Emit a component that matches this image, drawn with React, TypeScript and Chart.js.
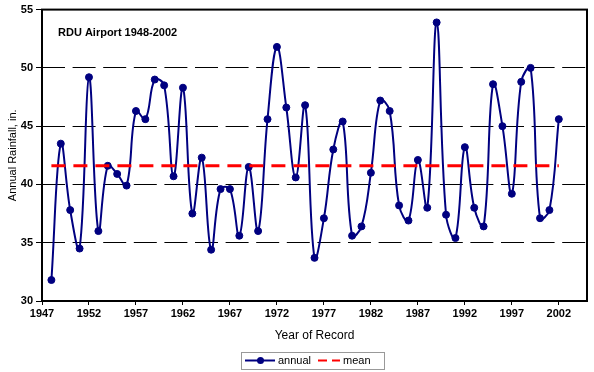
import { useEffect, useRef } from 'react';
import { Chart, registerables } from 'chart.js';

Chart.register(...registerables);

const years = [
  1948, 1949, 1950, 1951, 1952, 1953, 1954, 1955, 1956, 1957,
  1958, 1959, 1960, 1961, 1962, 1963, 1964, 1965, 1966, 1967,
  1968, 1969, 1970, 1971, 1972, 1973, 1974, 1975, 1976, 1977,
  1978, 1979, 1980, 1981, 1982, 1983, 1984, 1985, 1986, 1987,
  1988, 1989, 1990, 1991, 1992, 1993, 1994, 1995, 1996, 1997,
  1998, 1999, 2000, 2001, 2002,
];

const annualRainfall = [
  31.8, 43.5, 37.8, 34.5, 49.2, 36.0, 41.6, 40.9, 39.9, 46.3,
  45.6, 49.0, 48.5, 40.7, 48.3, 37.5, 42.3, 34.4, 39.6, 39.6,
  35.6, 41.5, 36.0, 45.6, 51.8, 46.6, 40.6, 46.8, 33.7, 37.1,
  43.0, 45.4, 35.6, 36.4, 41.0, 47.2, 46.3, 38.2, 36.9, 42.1,
  38.0, 53.9, 37.4, 35.4, 43.2, 38.0, 36.4, 48.6, 45.0, 39.2,
  48.8, 50.0, 37.1, 37.8, 45.6,
];

const meanYears = [1948, 2002];
const meanValues = [41.6, 41.6];

const xTickYears = [1947, 1952, 1957, 1962, 1967, 1972, 1977, 1982, 1987, 1992, 1997, 2002];
const xMin = 1947;
const xMax = 2005;
const yMin = 30;
const yMax = 55;
const yStep = 5;

const chartTitle = 'RDU Airport 1948-2002';
const xTitle = 'Year of Record';
const yTitle = 'Annual Rainfall, in.';
const seriesLabels = ['annual', 'mean'];

const FONT = '"Liberation Sans", Arial, sans-serif';
const NAVY = '#000080';
const RED = '#FF0000';

const decorPlugin = {
  id: 'decor',
  afterDatasetsDraw(chart: any) {
    const { ctx, chartArea: a } = chart;
    ctx.save();
    ctx.strokeStyle = '#000';
    ctx.lineWidth = 2;
    ctx.strokeRect(a.left, a.top, a.right - a.left, a.bottom - a.top);
    ctx.fillStyle = '#000';
    ctx.font = `bold 11px ${FONT}`;
    ctx.textBaseline = 'middle';
    ctx.textAlign = 'left';
    ctx.fillText(chartTitle, a.left + 16, a.top + 23);
    ctx.restore();
  },
  afterDraw(chart: any) {
    const { ctx } = chart;
    const ds = chart.data.datasets;
    const bx = 241, by = 352, bw = 143, bh = 17;
    const cy = by + bh / 2;
    ctx.save();
    ctx.fillStyle = '#fff';
    ctx.fillRect(bx, by, bw, bh);
    ctx.strokeStyle = '#999';
    ctx.lineWidth = 1;
    ctx.strokeRect(bx + 0.5, by + 0.5, bw, bh);
    // annual
    ctx.strokeStyle = NAVY;
    ctx.lineWidth = 2;
    ctx.beginPath();
    ctx.moveTo(bx + 4, cy);
    ctx.lineTo(bx + 34, cy);
    ctx.stroke();
    ctx.fillStyle = NAVY;
    ctx.beginPath();
    ctx.arc(bx + 19.5, cy, 3.5, 0, Math.PI * 2);
    ctx.fill();
    ctx.fillStyle = '#000';
    ctx.font = `11px ${FONT}`;
    ctx.textBaseline = 'middle';
    ctx.textAlign = 'left';
    ctx.fillText(ds[0].label, bx + 37, cy + 0.5);
    // mean
    ctx.strokeStyle = RED;
    ctx.lineWidth = 2;
    ctx.beginPath();
    ctx.moveTo(bx + 77, cy);
    ctx.lineTo(bx + 86, cy);
    ctx.moveTo(bx + 91, cy);
    ctx.lineTo(bx + 99, cy);
    ctx.stroke();
    ctx.fillStyle = '#000';
    ctx.fillText(ds[1].label, bx + 102, cy + 0.5);
    ctx.restore();
  },
};

export default function App() {
  const ref = useRef<HTMLCanvasElement>(null);

  useEffect(() => {
    document.body.style.margin = '0';
    const canvas = ref.current;
    if (!canvas) return;
    const chart = new Chart(canvas, {
      type: 'line',
      data: {
        datasets: [
          {
            label: seriesLabels[0],
            data: years.map((x, i) => ({ x, y: annualRainfall[i] })),
            borderColor: NAVY,
            backgroundColor: NAVY,
            borderWidth: 2,
            pointRadius: 3.5,
            pointBorderWidth: 1,
            pointBackgroundColor: NAVY,
            pointBorderColor: NAVY,
            tension: 0.4,
            order: 1,
          },
          {
            label: seriesLabels[1],
            data: meanYears.map((x, i) => ({ x, y: meanValues[i] })),
            borderColor: RED,
            backgroundColor: RED,
            borderWidth: 3,
            borderDash: [14, 8],
            pointRadius: 0,
            tension: 0,
            order: 0,
          },
        ],
      },
      options: {
        responsive: false,
        animation: false,
        layout: { padding: { left: 0, top: 9, right: 7, bottom: 25 } },
        plugins: {
          legend: { display: false },
          tooltip: { enabled: false },
          title: { display: false },
        },
        scales: {
          x: {
            type: 'linear',
            min: xMin,
            max: xMax,
            afterBuildTicks: (scale: any) => {
              scale.ticks = xTickYears.map((v) => ({ value: v }));
            },
            afterFit: (scale: any) => {
              scale.height = 46;
            },
            border: { display: false },
            grid: {
              drawOnChartArea: false,
              drawTicks: true,
              tickLength: 4,
              tickColor: '#000',
              tickWidth: 1,
            },
            ticks: {
              color: '#000',
              font: { family: FONT, size: 11, weight: 'bold' },
              padding: 2,
              maxRotation: 0,
              autoSkip: false,
              callback: (v: any) => String(v),
            },
            title: {
              display: true,
              text: xTitle,
              color: '#000',
              font: { family: FONT, size: 12 },
              padding: { top: 4, bottom: 4 },
            },
          },
          y: {
            type: 'linear',
            min: yMin,
            max: yMax,
            afterFit: (scale: any) => {
              scale.width = 42;
            },
            border: { display: false, dash: [23, 7.6], dashOffset: 0 },
            grid: {
              color: (c: any) =>
                c.tick && (c.tick.value === yMin || c.tick.value === yMax) ? 'rgba(0,0,0,0)' : '#000',
              lineWidth: 1,
              tickBorderDash: [],
              drawTicks: true,
              tickLength: 6,
              tickColor: '#000',
              tickWidth: 1,
            },
            ticks: {
              stepSize: yStep,
              color: '#000',
              font: { family: FONT, size: 11, weight: 'bold' },
              padding: 3,
            },
            title: {
              display: true,
              text: yTitle,
              color: '#000',
              font: { family: FONT, size: 11 },
              padding: { top: 6, bottom: 0 },
            },
          },
        },
      },
      plugins: [decorPlugin],
    });
    return () => chart.destroy();
  }, []);

  return (
    <div style={{ width: 594, height: 372, background: '#fff' }}>
      <canvas ref={ref} width={594} height={372} style={{ display: 'block' }} />
    </div>
  );
}
